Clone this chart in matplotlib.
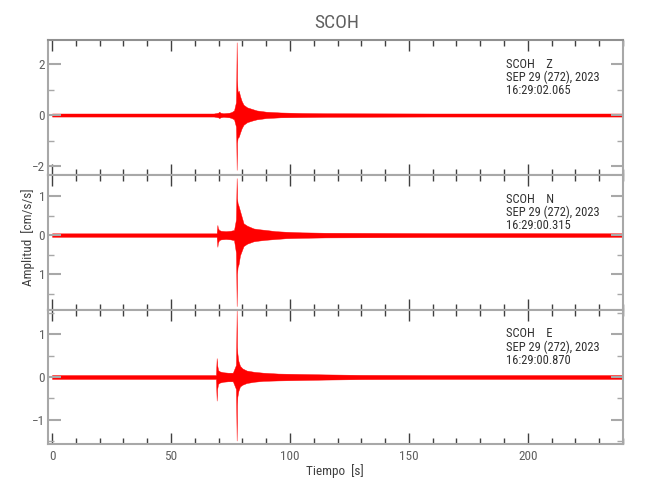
import matplotlib
matplotlib.use("Agg")
import matplotlib.pyplot as plt
from matplotlib import font_manager
from matplotlib.ticker import MultipleLocator, FixedLocator, FixedFormatter

# ---------------- data (envelopes) ----------------
station = "SCOH"
components = ["Z", "N", "E"]
date_label = "SEP 29 (272), 2023"
start_times = ["16:29:02.065", "16:29:00.315", "16:29:00.870"]

# Z component
z_t  = [0, 20, 40, 60, 68, 69.8, 70.3, 70.8, 72, 74.5, 75.5, 76.5, 77.3, 77.45, 77.6, 77.75, 78.0, 78.5, 79.0, 79.7, 80.5, 82, 84, 86, 90, 96, 105, 115, 160, 200, 240]
z_up = [0.06, 0.06, 0.06, 0.06, 0.06, 0.09, 0.13, 0.09, 0.07, 0.09, 0.12, 0.18, 0.50, 1.30, 2.85, 1.40, 0.90, 0.95, 0.75, 0.55, 0.40, 0.30, 0.24, 0.18, 0.13, 0.10, 0.08, 0.07, 0.06, 0.06, 0.06]
z_lo = [-0.06, -0.06, -0.06, -0.06, -0.06, -0.09, -0.12, -0.09, -0.07, -0.09, -0.12, -0.17, -0.45, -1.00, -2.15, -1.10, -0.90, -0.85, -0.70, -0.52, -0.38, -0.28, -0.22, -0.17, -0.12, -0.09, -0.08, -0.07, -0.06, -0.06, -0.06]

# N component
n_t  = [0, 20, 40, 60, 69.2, 69.5, 69.7, 70.2, 71, 73, 75, 76.5, 77.3, 77.45, 77.6, 77.75, 78.0, 78.4, 79.0, 80.5, 82, 84.7, 87, 90, 94, 98.5, 105, 115, 160, 200, 240]
n_up = [0.045, 0.045, 0.045, 0.045, 0.045, 0.26, 0.18, 0.13, 0.11, 0.10, 0.11, 0.13, 0.40, 0.90, 1.46, 0.95, 0.82, 0.75, 0.62, 0.30, 0.24, 0.17, 0.15, 0.13, 0.10, 0.085, 0.07, 0.06, 0.05, 0.05, 0.045]
n_lo = [-0.045, -0.045, -0.045, -0.045, -0.045, -0.30, -0.20, -0.13, -0.11, -0.10, -0.11, -0.13, -0.45, -1.00, -1.82, -1.00, -0.82, -0.75, -0.52, -0.28, -0.22, -0.16, -0.14, -0.12, -0.10, -0.08, -0.07, -0.06, -0.05, -0.05, -0.045]

# E component
e_t  = [0, 20, 40, 60, 68.9, 69.2, 69.4, 69.8, 70.5, 72, 74, 76, 77.3, 77.45, 77.6, 77.75, 77.9, 78.3, 79.0, 80, 81.8, 85, 88.8, 95, 105, 115, 130, 160, 200, 240]
e_up = [0.045, 0.045, 0.045, 0.045, 0.045, 0.44, 0.28, 0.16, 0.13, 0.11, 0.10, 0.10, 0.28, 0.80, 1.55, 0.70, 0.55, 0.38, 0.26, 0.20, 0.15, 0.12, 0.10, 0.08, 0.07, 0.06, 0.05, 0.045, 0.045, 0.045]
e_lo = [-0.045, -0.045, -0.045, -0.045, -0.045, -0.55, -0.28, -0.16, -0.13, -0.11, -0.10, -0.10, -0.28, -0.80, -1.48, -0.65, -0.46, -0.33, -0.22, -0.18, -0.14, -0.11, -0.09, -0.08, -0.07, -0.06, -0.05, -0.045, -0.045, -0.045]

traces = [(z_t, z_up, z_lo), (n_t, n_up, n_lo), (e_t, e_up, e_lo)]
ylims = [(-2.35, 2.94), (-1.92, 1.54), (-1.56, 1.56)]
major_ticks = [[-2, 0, 2], [-1, 0, 1], [-1, 0, 1]]
major_labels = [["\u22122", "0", "2"], ["1", "0", "1"], ["\u22121", "0", "1"]]
minor_ticks = [[-1, 1], [-1.5, -0.5, 0.5], [-1.5, -0.5, 0.5, 1.5]]
xlim = (-1.7, 240)

# ---------------- font ----------------
def pick_font(cands):
    for c in cands:
        try:
            font_manager.findfont(font_manager.FontProperties(family=c), fallback_to_default=False)
            return c
        except Exception:
            continue
    return "DejaVu Sans"

fam = pick_font(["Liberation Sans Narrow", "DejaVu Sans Condensed", "Roboto Condensed", "Liberation Sans"])
plt.rcParams["font.family"] = [fam, "DejaVu Sans"]

txt_col = "#606060"
spine_col = "#a8a8a8"

fig = plt.figure(figsize=(6.5, 5.0), dpi=100)
left, right = 48 / 650, 623 / 650
tops = [40, 175, 310]
bots = [175, 310, 444]

axes = []
for i in range(3):
    b = 1 - bots[i] / 500
    h = (bots[i] - tops[i]) / 500
    ax = fig.add_axes([left, b, right - left, h])
    axes.append(ax)
    t, up, lo = traces[i]
    ax.fill_between(t, lo, up, color="#ff0000", linewidth=0.3, edgecolor="#ff0000")
    ax.set_xlim(*xlim)
    ax.set_ylim(*ylims[i])
    ax.xaxis.set_major_locator(MultipleLocator(50))
    ax.xaxis.set_minor_locator(MultipleLocator(10))
    ax.yaxis.set_major_locator(FixedLocator(major_ticks[i]))
    ax.yaxis.set_major_formatter(FixedFormatter(major_labels[i]))
    ax.yaxis.set_minor_locator(FixedLocator(minor_ticks[i]))
    ax.tick_params(axis="both", which="both", direction="in", top=True, right=True)
    ax.tick_params(axis="x", which="major", length=8, width=1, color="#404040")
    ax.tick_params(axis="x", which="minor", length=4, width=1, color="#404040")
    ax.tick_params(axis="y", which="major", length=9, width=1.5, color=spine_col)
    ax.tick_params(axis="y", which="minor", length=4, width=1, color=spine_col)
    ax.tick_params(axis="both", labelsize=9.5, labelcolor=txt_col, pad=2)
    ax.tick_params(axis="x", pad=4)
    for s in ["left", "right", "bottom"]:
        ax.spines[s].set_color(spine_col)
        ax.spines[s].set_linewidth(1.5)
    ax.spines["top"].set_color("#909090" if i == 0 else spine_col)
    ax.spines["top"].set_linewidth(1.5)
    if i < 2:
        ax.tick_params(axis="x", labelbottom=False)
    ax.text(0.797, 0.87, f"{station}    {components[i]}\n{date_label}\n{start_times[i]}",
            transform=ax.transAxes, ha="left", va="top", fontsize=9,
            color="#303030", linespacing=1.0)

fig.text(337 / 650, 1 - 23 / 500, station, ha="center", va="center", fontsize=14, color=txt_col)
fig.text(335 / 650, 1 - 471 / 500, "Tiempo  [s]", ha="center", va="center", fontsize=9.5, color="#404040")
fig.text(28 / 650, 1 - 237 / 500, "Amplitud  [cm/s/s]", ha="center", va="center", rotation=90,
         fontsize=9.5, color="#404040")

fig.savefig("out.png", dpi=100)
